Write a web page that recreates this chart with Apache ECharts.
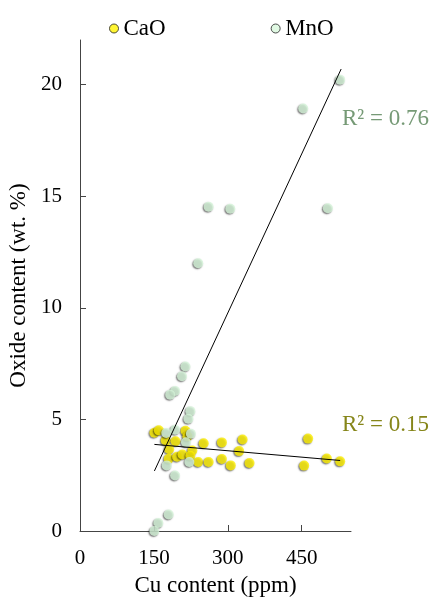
<!DOCTYPE html>
<html><head><meta charset="utf-8">
<script src="https://cdn.jsdelivr.net/npm/echarts@6/dist/echarts.min.js"></script>
<style>html,body{margin:0;padding:0;background:#fff}#c{width:435px;height:597px}</style>
</head><body><div id="c"></div>
<script>
const caoCu    = [151, 160, 174, 194, 214, 218, 181, 228, 251, 288, 330, 323, 463, 501, 528, 455, 180, 197, 208, 224, 240, 261, 288, 306, 344];
const caoOxide = [4.40, 4.51, 4.06, 4.02, 4.49, 4.24, 3.66, 3.61, 3.93, 3.97, 4.10, 3.58, 4.14, 3.25, 3.12, 2.93, 3.24, 3.33, 3.43, 3.37, 3.09, 3.09, 3.23, 2.94, 3.05];
const mnoCu    = [528, 453, 503, 261, 305, 240, 214, 207, 193, 183, 224, 220, 193, 175, 225, 215, 176, 222, 193, 180, 159, 151];
const mnoOxide = [20.22, 18.93, 14.46, 14.53, 14.44, 12.0, 7.37, 6.93, 6.27, 6.11, 5.37, 5.03, 4.54, 4.39, 4.36, 3.98, 2.94, 3.09, 2.49, 0.74, 0.36, 0.0];
const caoTrendCu = [151, 528];
const caoTrendOxide = [3.88, 3.16];
const mnoTrendCu = [151, 530];
const mnoTrendOxide = [2.69, 20.7];
const xTicks = [0, 150, 300, 450];
const yTicks = [0, 5, 10, 15, 20];
const seriesNames = ['CaO', 'MnO'];
const r2Labels = ['R\u00B2 = 0.76', 'R\u00B2 = 0.15'];

const FONT = '"Liberation Serif", "DejaVu Serif", serif';
const zip = (a, b) => a.map((v, i) => [v, b[i]]);
const dotStyle = (c) => ({
  color: c, borderWidth: 0,
  shadowColor: 'rgba(0,0,0,0.65)', shadowBlur: 1.5, shadowOffsetX: -1, shadowOffsetY: 1
});

const chart = echarts.init(document.getElementById('c'), null, {renderer: 'canvas'});
chart.setOption({
  animation: false,
  backgroundColor: '#fff',
  grid: {left: 80, right: 84, top: 40, bottom: 66, outerBoundsMode: 'none'},
  legend: {
    top: 12, left: 104, itemGap: 105, itemWidth: 9, itemHeight: 9, icon: 'circle',
    textStyle: {fontFamily: FONT, fontSize: 23, color: '#000', padding: [8, 0, 0, 0]},
    data: [
      {name: seriesNames[0], itemStyle: {color: '#fff200', borderColor: '#222', borderWidth: 1, shadowBlur: 0, shadowOffsetX: 0, shadowOffsetY: 0}},
      {name: seriesNames[1], itemStyle: {color: '#d8f7dc', borderColor: '#222', borderWidth: 1, shadowBlur: 0, shadowOffsetX: 0, shadowOffsetY: 0}}
    ]
  },
  xAxis: {
    type: 'value', min: 0, max: 550,
    name: 'Cu content (ppm)', nameLocation: 'middle', nameGap: 43,
    nameTextStyle: {fontFamily: FONT, fontSize: 23, color: '#000'},
    axisLine: {lineStyle: {color: '#444', width: 1}},
    axisTick: {inside: true, length: 6, customValues: xTicks, lineStyle: {color: '#444'}},
    axisLabel: {customValues: xTicks, margin: 17, fontFamily: FONT, fontSize: 21, color: '#000'},
    splitLine: {show: false}
  },
  yAxis: {
    type: 'value', min: 0, max: 22,
    name: 'Oxide content (wt. %)', nameLocation: 'middle', nameGap: 42,
    nameTextStyle: {fontFamily: FONT, fontSize: 23, color: '#000'},
    axisLine: {show: true, lineStyle: {color: '#444', width: 1}},
    axisTick: {show: true, inside: true, length: 6, customValues: yTicks, lineStyle: {color: '#444'}},
    axisLabel: {customValues: yTicks, margin: 18, fontFamily: FONT, fontSize: 21, color: '#000'},
    splitLine: {show: false}
  },
  graphic: [
    {type: 'text', left: 342, top: 107, style: {text: r2Labels[0], font: '23px ' + FONT, fill: '#769a76'}},
    {type: 'text', left: 342, top: 413, style: {text: r2Labels[1], font: '23px ' + FONT, fill: '#86861a'}}
  ],
  series: [
    {name: seriesNames[0], type: 'scatter', symbolSize: 10, data: zip(caoCu, caoOxide), itemStyle: dotStyle('#fff000'), z: 2},
    {name: seriesNames[1], type: 'scatter', symbolSize: 10, data: zip(mnoCu, mnoOxide), itemStyle: dotStyle('#d6f5da'), z: 3},
    {name: 'CaO trend', type: 'line', data: zip(caoTrendCu, caoTrendOxide), symbol: 'none', lineStyle: {color: '#000', width: 1}, z: 4},
    {name: 'MnO trend', type: 'line', data: zip(mnoTrendCu, mnoTrendOxide), symbol: 'none', lineStyle: {color: '#000', width: 1}, z: 4}
  ]
});
</script>
</body></html>
